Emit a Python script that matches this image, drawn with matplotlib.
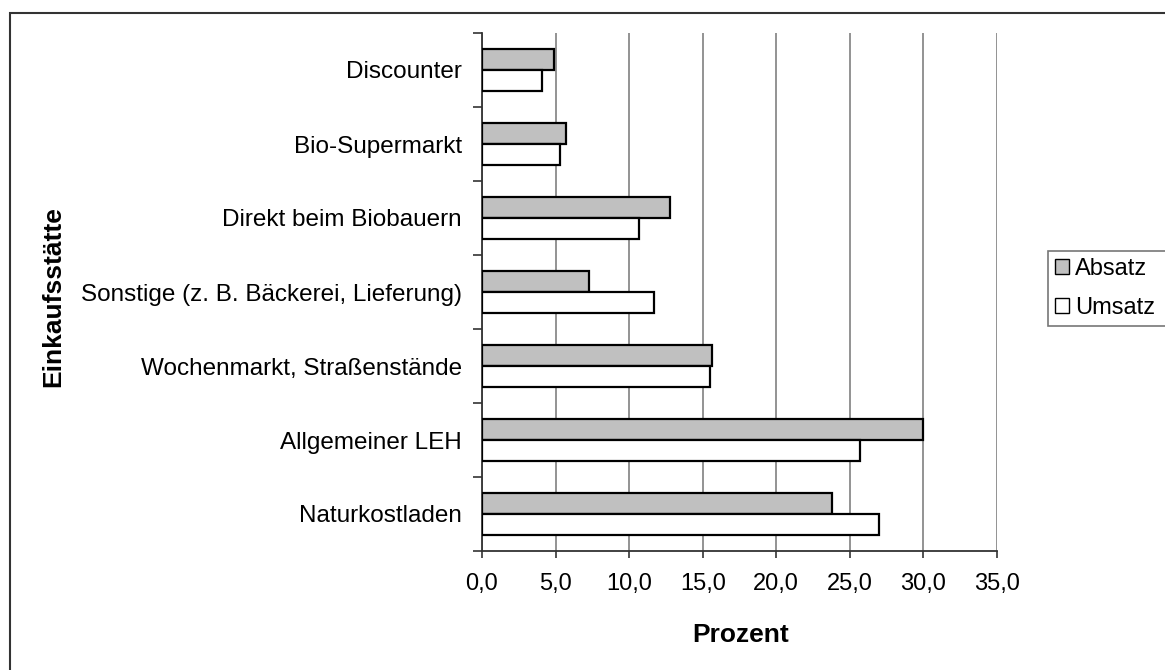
import matplotlib
matplotlib.use('Agg')
import matplotlib.pyplot as plt
import numpy as np
from matplotlib.patches import Rectangle, Patch

plt.rcParams['font.family'] = ['Liberation Sans', 'DejaVu Sans']

# Daten (Prozent)
kategorien = ['Discounter', 'Bio-Supermarkt', 'Direkt beim Biobauern',
              'Sonstige (z. B. Bäckerei, Lieferung)', 'Wochenmarkt, Straßenstände',
              'Allgemeiner LEH', 'Naturkostladen']
absatz = [4.9, 5.7, 12.8, 7.3, 15.6, 30.0, 23.8]
umsatz = [4.1, 5.3, 10.7, 11.7, 15.5, 25.7, 27.0]
xticks = [0, 5, 10, 15, 20, 25, 30, 35]

fig = plt.figure(figsize=(11.65, 6.7), dpi=100)
ax = fig.add_axes([482/1165, 1-551/670, 515/1165, 518/670])

n = len(kategorien)
pos = np.arange(n)[::-1] + 0.5   # Discounter oben
h = 0.286
ax.barh(pos + h/2, absatz, height=h, color='#c0c0c0', edgecolor='black', linewidth=1.6, zorder=3)
ax.barh(pos - h/2, umsatz, height=h, color='white', edgecolor='black', linewidth=1.6, zorder=3)

ax.set_xlim(0, 35)
ax.set_ylim(0, n)
ax.set_xticks(xticks)
ax.xaxis.set_major_formatter(matplotlib.ticker.FuncFormatter(lambda v, p: ('%.1f' % v).replace('.', ',')))
ax.tick_params(axis='x', labelsize=17)
ax.set_yticks(np.arange(n + 1))
ax.set_yticklabels([])
ax.set_yticks(pos, minor=True)
ax.set_yticklabels(kategorien, minor=True, fontsize=17.5)
ax.tick_params(axis='y', which='minor', length=0, pad=14.5)
ax.tick_params(axis='y', which='major', length=6.5, width=1.2, color='#333333', direction='out')
ax.tick_params(axis='x', length=5, width=1.2, color='#333333', pad=11)

for s in ['top', 'right']:
    ax.spines[s].set_visible(False)
for s in ['left', 'bottom']:
    ax.spines[s].set_color('#333333')
    ax.spines[s].set_linewidth(1.3)

ax.grid(axis='x', color='#808080', linewidth=1.2, zorder=0)
ax.set_axisbelow(True)

fig.text(741/1165, 1-642/670, 'Prozent', fontsize=19, fontweight='bold', ha='center', va='baseline')
fig.text(53/1165, 1-297/670, 'Einkaufsstätte', fontsize=19, fontweight='bold', ha='center', va='center', rotation=90)

# Rahmen um das Diagramm
fig.patches.append(Rectangle((10/1165, -0.1), 1.2, 1.1 - 13/670, transform=fig.transFigure,
                             fill=False, edgecolor='#333333', linewidth=1.5))

handles = [Patch(facecolor='#c0c0c0', edgecolor='black', label='Absatz'),
           Patch(facecolor='white', edgecolor='black', label='Umsatz')]
leg = fig.legend(handles=handles, loc='upper left',
                 bbox_to_anchor=(1048/1165, 1-251/670, 160/1165, 0.0), mode='expand',
                 fontsize=17, frameon=True, fancybox=False, edgecolor='#555555',
                 handlelength=0.6, handleheight=0.6, handletextpad=0.25, borderpad=0.3,
                 labelspacing=0.7, borderaxespad=0)
leg.get_frame().set_linewidth(1.2)

fig.savefig('out.png', dpi=100, facecolor='white')
